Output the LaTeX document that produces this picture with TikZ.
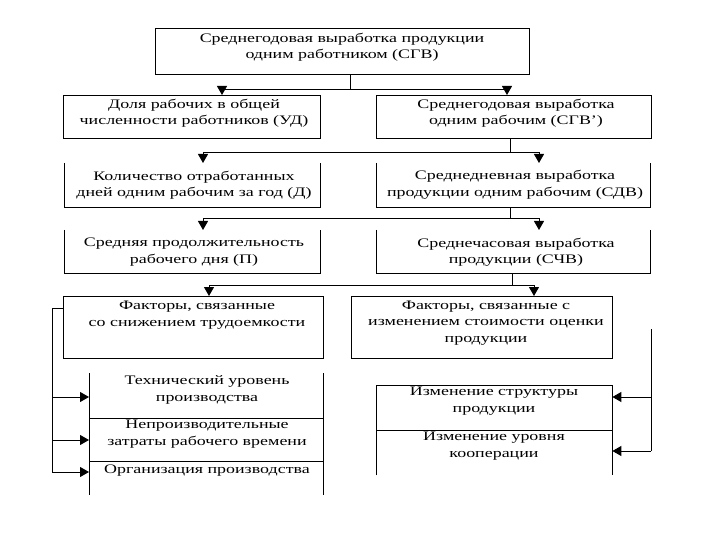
\documentclass[tikz,border=0pt]{standalone}
\usepackage{fontspec}
\setmainfont{Liberation Serif}[FakeStretch=1.38]
\usetikzlibrary{arrows.meta}
\begin{document}
\begin{tikzpicture}[x=1pt,y=-1pt,
  box/.style={draw, line width=1pt, anchor=north west, inner sep=0pt},
  nobox/.style={draw=none, anchor=north west, inner sep=0pt},
  txt/.style={align=center, font=\fontsize{13}{16.5}\selectfont, inner sep=0pt},
  line/.style={line width=1pt},
  arr/.style={line width=1pt, -{Triangle[width=10pt,length=9pt]}},
]
\path[use as bounding box] (0,0) rectangle (720,540);

% boxes
\node[box, minimum width=374pt, minimum height=46pt] (top) at (155,28) {};
\node[box, minimum width=257pt, minimum height=43pt] (r2l) at (63,95) {};
\node[box, minimum width=275pt, minimum height=43pt] (r2r) at (376,95) {};
\node[nobox, minimum width=256pt, minimum height=44pt] (r3l) at (64,163) {};
\node[nobox, minimum width=274pt, minimum height=44pt] (r3r) at (376,163) {};
\node[nobox, minimum width=256pt, minimum height=43pt] (r4l) at (64,230) {};
\node[nobox, minimum width=274pt, minimum height=43pt] (r4r) at (376,230) {};
\node[box, minimum width=260pt, minimum height=62pt] (r5l) at (63,296) {};
\node[box, minimum width=261pt, minimum height=62pt] (r5r) at (351,296) {};
\node[nobox, minimum width=234pt, minimum height=122pt] (bl) at (89,373) {};
\node[nobox, minimum width=236pt, minimum height=90pt] (br) at (376,385) {};

\foreach \n in {r3l,r3r,r4l,r4r}
  \draw[line] (\n.north west) |- (\n.south east) -- (\n.north east);
\draw[line] (bl.north west) -- (bl.south west);
\draw[line] (bl.north east) -- (bl.south east);
\draw[line] (89,418) -- (323,418);
\draw[line] (89,461) -- (323,461);
\draw[line] (br.south west) |- (br.north east) -- (br.south east);
\draw[line] (376,430) -- (612,430);

% texts
\node[txt] (t1) at (342,47) {Среднегодовая выработка продукции\\одним работником (СГВ)};
\node[txt] (t2l) at (194,113) {Доля рабочих в общей\\численности работников (УД)};
\node[txt] (t2r) at (516,113) {Среднегодовая выработка\\одним рабочим (СГВ')};
\node[txt] (t3l) at (194,185) {Количество отработанных\\дней одним рабочим за год (Д)};
\node[txt] (t3r) at (515,185) {Среднедневная выработка\\продукции одним рабочим (СДВ)};
\node[txt] (t4l) at (194,252) {Средняя продолжительность\\рабочего дня (П)};
\node[txt] (t4r) at (516,252) {Среднечасовая выработка\\продукции (СЧВ)};
\node[txt] (t5l) at (197,315) {Факторы, связанные\\со снижением трудоемкости};
\node[txt] (t5r) at (486,323) {Факторы, связанные с\\изменением стоимости оценки\\продукции};
\node[txt] (t6a) at (207,390) {Технический уровень\\производства};
\node[txt] (t6b) at (207,434) {Непроизводительные\\затраты рабочего времени};
\node[txt] (t6c) at (207,471) {Организация производства};
\node[txt] (t7a) at (494,401) {Изменение структуры\\продукции};
\node[txt] (t7b) at (494,446) {Изменение уровня\\кооперации};

% connectors
\coordinate (j1) at (350,90);
\coordinate (a1l) at (222,95);
\coordinate (a1r) at (507,95);
\draw[line] (top.south -| j1) -- (j1);
\draw[arr] (j1) -| (a1l);
\draw[arr] (j1) -| (a1r);

\coordinate (j2) at (510,153);
\coordinate (a2l) at (203,163);
\coordinate (a2r) at (539,163);
\draw[line] (r2r.south -| j2) -- (j2);
\draw[arr] (j2) -| (a2l);
\draw[arr] (j2) -| (a2r);

\coordinate (j3) at (510,219);
\coordinate (a3l) at (203,230);
\coordinate (a3r) at (539,230);
\draw[line] (r3r.south -| j3) -- (j3);
\draw[arr] (j3) -| (a3l);
\draw[arr] (j3) -| (a3r);

\coordinate (j4) at (512,285);
\coordinate (a4l) at (209,296);
\coordinate (a4r) at (534,296);
\draw[line] (r4r.south -| j4) -- (j4);
\draw[arr] (j4) -| (a4l);
\draw[arr] (j4) -| (a4r);

\coordinate (lj) at (52,308);
\coordinate (b1) at (52,397);
\coordinate (b2) at (52,440);
\coordinate (b3) at (52,472);
\draw[line] (r5l.west |- lj) -- (lj) -- (b3);
\draw[arr] (b1) -- (bl.west |- b1);
\draw[arr] (b2) -- (bl.west |- b2);
\draw[arr] (b3) -- (bl.west |- b3);

\coordinate (rj) at (651,329);
\coordinate (c1) at (651,397);
\coordinate (c2) at (651,451);
\draw[line] (rj) -- (c2);
\draw[arr] (c1) -- (br.east |- c1);
\draw[arr] (c2) -- (br.east |- c2);
\end{tikzpicture}
\end{document}
